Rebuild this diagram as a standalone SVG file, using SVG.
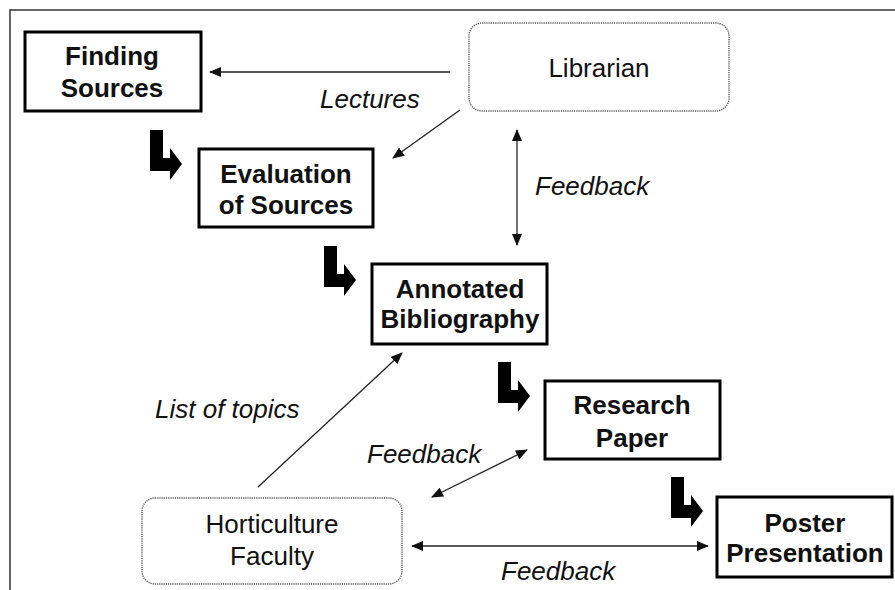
<svg xmlns="http://www.w3.org/2000/svg" width="895" height="590" viewBox="0 0 895 590">
<style>
.box{fill:#fff;stroke:#000;stroke-width:3}
.soft{fill:#fff;stroke:#555;stroke-width:1.4;stroke-dasharray:1.2 1}
.b{font-family:"Liberation Sans",Arial,sans-serif;font-weight:bold;font-size:26px;fill:#111;text-anchor:middle}
.r{font-family:"Liberation Sans",Arial,sans-serif;font-size:26px;fill:#111;text-anchor:middle}
.i{font-family:"Liberation Sans",Arial,sans-serif;font-style:italic;font-size:26px;fill:#111}
.ln{fill:none;stroke:#222;stroke-width:1.3}
.bent{fill:#000}
</style>
<defs>
<marker id="ah" markerUnits="userSpaceOnUse" markerWidth="12" markerHeight="10" refX="11" refY="5" orient="auto-start-reverse">
<path d="M0,0 L12,5 L0,10 Z" fill="#111"/>
</marker>
<path id="bentArrow" d="M0,0 h13 v28 h7 v-10 l12,16 l-12,16 v-9 h-20 Z"/>
</defs>
<rect width="895" height="590" fill="#fff"/>
<path d="M10,590 V10 H895" fill="none" stroke="#333" stroke-width="1.5"/>

<g id="finding-sources">
<rect class="box" x="25" y="32" width="176" height="79"/>
<text class="b" x="112" y="65">Finding</text>
<text class="b" x="112" y="97">Sources</text>
</g>
<g id="evaluation">
<rect class="box" x="199" y="149" width="174" height="78"/>
<text class="b" x="286" y="183">Evaluation</text>
<text class="b" x="286" y="214">of Sources</text>
</g>
<g id="annotated-bibliography">
<rect class="box" x="372" y="264" width="175" height="80"/>
<text class="b" x="460" y="298">Annotated</text>
<text class="b" x="460" y="328">Bibliography</text>
</g>
<g id="research-paper">
<rect class="box" x="545" y="381" width="175" height="78"/>
<text class="b" x="632" y="414">Research</text>
<text class="b" x="632" y="447">Paper</text>
</g>
<g id="poster-presentation">
<rect class="box" x="717" y="497" width="175" height="80"/>
<text class="b" x="805" y="532">Poster</text>
<text class="b" x="805" y="562">Presentation</text>
</g>
<g id="librarian">
<rect class="soft" x="469" y="23" width="260" height="88" rx="13"/>
<text class="r" x="599" y="77">Librarian</text>
</g>
<g id="horticulture-faculty">
<rect class="soft" x="142" y="498" width="260" height="86" rx="13"/>
<text class="r" x="272" y="533">Horticulture</text>
<text class="r" x="272" y="565">Faculty</text>
</g>

<g id="connectors">
<line class="ln" x1="450" y1="72" x2="210" y2="72" marker-end="url(#ah)"/>
<line class="ln" x1="460" y1="110" x2="393" y2="158" marker-end="url(#ah)"/>
<line class="ln" x1="517" y1="130" x2="517" y2="245" marker-start="url(#ah)" marker-end="url(#ah)"/>
<line class="ln" x1="258" y1="487" x2="402" y2="353" marker-end="url(#ah)"/>
<line class="ln" x1="432" y1="497" x2="527" y2="450" marker-start="url(#ah)" marker-end="url(#ah)"/>
<line class="ln" x1="412" y1="546" x2="708" y2="546" marker-start="url(#ah)" marker-end="url(#ah)"/>
<use href="#bentArrow" class="bent" x="150" y="130"/>
<use href="#bentArrow" class="bent" x="324" y="246"/>
<use href="#bentArrow" class="bent" x="498" y="362"/>
<use href="#bentArrow" class="bent" x="671" y="477"/>
<text class="i" x="320" y="108">Lectures</text>
<text class="i" x="535" y="195">Feedback</text>
<text class="i" x="155" y="418">List of topics</text>
<text class="i" x="367" y="463">Feedback</text>
<text class="i" x="501" y="580">Feedback</text>
</g>
</svg>
